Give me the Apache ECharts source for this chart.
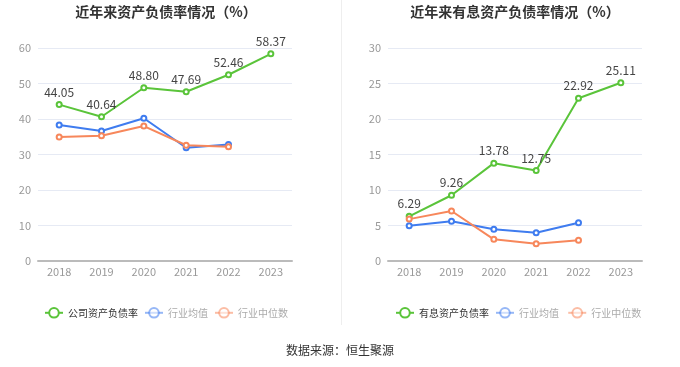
<!DOCTYPE html>
<html><head><meta charset="utf-8">
<script src="https://cdn.jsdelivr.net/npm/echarts@6/dist/echarts.min.js"></script>
<style>html,body{margin:0;padding:0;background:#fff}#c{width:680px;height:367px}</style>
</head><body><div id="c"></div>
<script>
var years = ['2018','2019','2020','2021','2022','2023'];
var companyDebt = [44.05, 40.64, 48.80, 47.69, 52.46, 58.37];
var industryAvg1 = [38.3, 36.6, 40.2, 31.9, 32.8, null];
var industryMed1 = [34.9, 35.3, 38.0, 32.6, 32.2, null];
var interestDebt = [6.29, 9.26, 13.78, 12.75, 22.92, 25.11];
var industryAvg2 = [4.98, 5.59, 4.46, 3.99, 5.40, null];
var industryMed2 = [5.9, 7.04, 3.05, 2.44, 2.91, null];
var leftTitle = '近年来资产负债率情况（%）';
var rightTitle = '近年来有息资产负债率情况（%）';
var sourceText = '数据来源：恒生聚源';

var GREEN = '#5ac43a', BLUE = '#3f7cef', ORANGE = '#f7875b';
var font = '"Noto Sans CJK SC", "Noto Sans", sans-serif';
var chart = echarts.init(document.getElementById('c'));

function xAxis(gi){
  return {type:'category', gridIndex:gi, data:years, boundaryGap:true,
    axisLine:{lineStyle:{color:'#bbb', width:2}}, axisTick:{show:false},
    axisLabel:{color:'#999', fontSize:11, fontFamily:font, margin:5}};
}
function yAxis(gi, max, interval){
  return {type:'value', gridIndex:gi, min:0, max:max, interval:interval,
    axisLine:{show:false}, axisTick:{show:false},
    axisLabel:{color:'#999', fontSize:11, fontFamily:font, margin:7},
    splitLine:{lineStyle:{color:'#e6eaf4'}}};
}
function line(name, data, color, gi, label){
  return {name:name, type:'line', xAxisIndex:gi, yAxisIndex:gi, data:data,
    symbol:'emptyCircle', symbolSize:5, showSymbol:true, connectNulls:false,
    lineStyle:{color:color, width:2}, itemStyle:{color:color, borderWidth:1.5},
    label:{show:!!label, position:'top', color:'#444', fontSize:12, fontFamily:font, distance:3,
      formatter:function(p){return p.value.toFixed(2);}},
    emphasis:{disabled:true}, animation:false};
}
function fadedItem(name){
  return {name:name, textStyle:{color:'#aaa'}, itemStyle:{opacity:0.55}, lineStyle:{opacity:0.55}};
}
function legend(left, first, suffix){
  return {left:left, top:302, width:320, itemGap:6, itemWidth:18, itemHeight:12,
    textStyle:{fontSize:10, color:'#333', fontFamily:font},
    data:[first, fadedItem('行业均值'+suffix), fadedItem('行业中位数'+suffix)]};
}

chart.setOption({
  animation:false,
  title:[
    {text:leftTitle, left:161, textAlign:'center', top:0, textStyle:{fontSize:14, fontWeight:'bold', color:'#333', fontFamily:font}},
    {text:rightTitle, left:510, textAlign:'center', top:0, textStyle:{fontSize:14, fontWeight:'bold', color:'#333', fontFamily:font}}
  ],
  legend:[legend(39, '公司资产负债率', ''), legend(390, '有息资产负债率', ' ')],
  grid:[
    {left:38, right:388, top:48, bottom:106},
    {left:388, right:38, top:48, bottom:106}
  ],
  xAxis:[xAxis(0), xAxis(1)],
  yAxis:[yAxis(0, 60, 10), yAxis(1, 30, 5)],
  series:[
    line('公司资产负债率', companyDebt, GREEN, 0, true),
    line('行业均值', industryAvg1, BLUE, 0, false),
    line('行业中位数', industryMed1, ORANGE, 0, false),
    line('有息资产负债率', interestDebt, GREEN, 1, true),
    line('行业均值 ', industryAvg2, BLUE, 1, false),
    line('行业中位数 ', industryMed2, ORANGE, 1, false)
  ],
  graphic:[
    {type:'line', shape:{x1:341.5, y1:0, x2:341.5, y2:325}, style:{stroke:'#eee', lineWidth:1}},
    {type:'text', left:'center', top:344, style:{text:sourceText, fontSize:12, fill:'#333', fontFamily:font}}
  ]
});
</script></body></html>
